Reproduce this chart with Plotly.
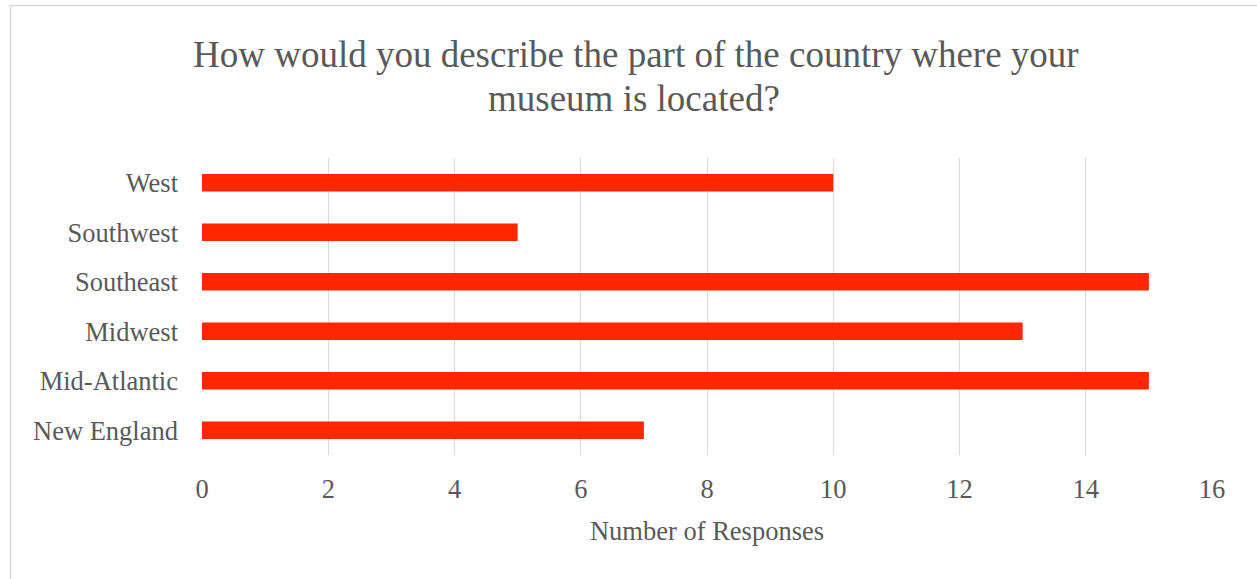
import plotly.graph_objects as go

categories = ["New England", "Mid-Atlantic", "Midwest", "Southeast", "Southwest", "West"]
responses = [7, 15, 13, 15, 5, 10]
x_ticks = [0, 2, 4, 6, 8, 10, 12, 14, 16]
title_lines = ["How would you describe the part of the country where your", "museum is located?"]

FONT = "Liberation Serif, Times New Roman, serif"
TXT = "#595959"
GRID = "#D9D9D9"

L, R, T, B = 202, 45, 158, 124
W, H = 1257, 579
pw, ph = W - L - R, H - T - B


def px_x(p):
    return (p - L) / pw


def px_y(p):
    return 1 - (p - T) / ph


fig = go.Figure(go.Bar(
    y=categories, x=responses, orientation="h",
    marker=dict(color="#FF2600", line=dict(width=0)),
    width=0.35,
))

annotations = [
    dict(text=title_lines[0], x=px_x(636), y=px_y(55), xref="paper", yref="paper",
         xanchor="center", yanchor="middle", showarrow=False,
         font=dict(family=FONT, size=37, color=TXT)),
    dict(text=title_lines[1], x=px_x(634), y=px_y(98), xref="paper", yref="paper",
         xanchor="center", yanchor="middle", showarrow=False,
         font=dict(family=FONT, size=37, color=TXT)),
]

fig.update_layout(
    width=W, height=H,
    margin=dict(l=L, r=R, t=T, b=B),
    paper_bgcolor="white", plot_bgcolor="white",
    font=dict(family=FONT, color=TXT, size=26),
    showlegend=False,
    annotations=annotations,
    xaxis=dict(
        range=[0, 16], tickvals=x_ticks, showgrid=True, gridcolor=GRID, gridwidth=1.3,
        zeroline=False, showline=False, ticks="", ticklabelstandoff=15,
        tickfont=dict(size=26.5, color=TXT),
        title=dict(text="Number of Responses", font=dict(size=26.5, color=TXT), standoff=18),
        fixedrange=True,
    ),
    yaxis=dict(
        categoryorder="array", categoryarray=categories,
        showgrid=False, zeroline=False, showline=False, ticks="",
        ticklabelstandoff=23, tickfont=dict(size=26.5, color=TXT),
        fixedrange=True,
    ),
    shapes=[dict(
        type="rect", xref="paper", yref="paper",
        x0=px_x(10.5), x1=px_x(W + 10),
        y0=px_y(H + 10), y1=px_y(5.5),
        line=dict(color=GRID, width=1.5), fillcolor="rgba(0,0,0,0)", layer="below",
    )],
)

fig.write_html("out.html", config={"displayModeBar": False},
               post_script="document.body.style.margin='0px';")
